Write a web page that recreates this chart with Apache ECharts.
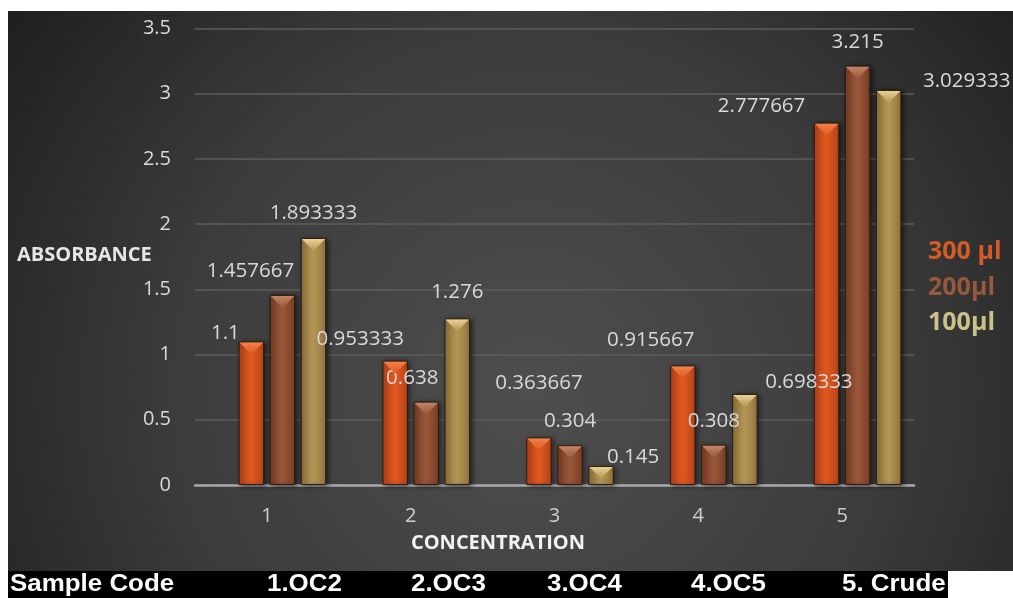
<!DOCTYPE html>
<html>
<head>
<meta charset="utf-8">
<script src="https://cdn.jsdelivr.net/npm/echarts@6/dist/echarts.min.js"></script>
<style>
html,body{margin:0;padding:0;background:#fff;}
#c{width:1013px;height:598px;}
</style>
</head>
<body>
<div id="c"></div>
<script>
// ---- data ----
const categories = ['1', '2', '3', '4', '5'];
const seriesNames = ['300 µl', '200µl', '100µl'];
const s300 = [1.1, 0.953333, 0.363667, 0.915667, 2.777667];
const s200 = [1.457667, 0.638, 0.304, 0.308, 3.215];
const s100 = [1.893333, 1.276, 0.145, 0.698333, 3.029333];
const yTicks = { min: 0, max: 3.5, interval: 0.5 };
const yAxisTitle = 'ABSORBANCE';
const xAxisTitle = 'CONCENTRATION';
const sampleCodes = ['Sample Code', '1.OC2', '2.OC3', '3.OC4', '4.OC5', '5. Crude'];

// ---- layout / style (not data) ----
const labelOffsets = [
  [[-26, 16], [-35, 2], [0, -30], [-32, -1], [-65, 7]],
  [[-32, 0], [-14, 0], [0, 0], [0, 0], [0, 0]],
  [[0, -1], [0, -2], [32, 15], [64, 12], [78, 15]]
];
const barColors = [
  ['#b8441a', '#e0581f', '#b8441a'],
  ['#7a3f28', '#9a5639', '#7a3f28'],
  ['#94763e', '#b39557', '#94763e']
];
const bevelColors = ['#f2804a', '#c38466', '#e9d194'];
const legendColors = ['#d45a28', '#98583b', '#cbc287'];
const BAR_W = 0.177, BAR_GAP = 0.22;
const sampleX = [10, 267, 411, 547, 691, 842];

const values = [s300, s200, s100];
const chart = echarts.init(document.getElementById('c'), null, { renderer: 'canvas' });

function grad(c) {
  return new echarts.graphic.LinearGradient(0, 0, 1, 0, [
    { offset: 0, color: c[0] }, { offset: 0.5, color: c[1] }, { offset: 1, color: c[2] }
  ]);
}

const barSeries = values.map((arr, s) => ({
  type: 'bar',
  name: seriesNames[s],
  barWidth: (BAR_W * 100) + '%',
  barGap: (BAR_GAP * 100) + '%',
  itemStyle: {
    color: grad(barColors[s]),
    borderColor: '#2b1b12', borderWidth: 1,
    shadowColor: 'rgba(0,0,0,0.55)', shadowBlur: 5, shadowOffsetX: 2, shadowOffsetY: 1
  },
  label: {
    show: true, position: 'top', distance: 13,
    color: '#d9d9d9', fontFamily: 'Open Sans', fontSize: 20.5, lineHeight: 22
  },
  data: arr.map((v, i) => ({ value: v, label: { offset: labelOffsets[s][i] } })),
  z: 3
}));

// empty leading series (reserves the first slot of each group, as in the original)
const emptySeries = {
  type: 'bar', name: '_empty', barWidth: (BAR_W * 100) + '%', barGap: (BAR_GAP * 100) + '%',
  data: categories.map(() => null)
};

const bevelData = [];
values.forEach((arr, s) => arr.forEach((v, i) => bevelData.push([i, v, s])));

const bevelSeries = {
  type: 'custom',
  silent: true,
  z: 4,
  data: bevelData,
  encode: { x: 0, y: 1 },
  renderItem: function (params, api) {
    const ci = api.value(0), v = api.value(1), s = api.value(2);
    const p = api.coord([ci, v]);
    const base = api.coord([ci, 0]);
    const band = api.size([1, 0])[0];
    const bw = band * BAR_W;
    const step = bw * (1 + BAR_GAP);
    const cx = p[0] + (s + 1 - 1.5) * step;
    const x0 = cx - bw / 2 + 1, x1 = cx + bw / 2 - 1;
    const h = Math.min(12, (base[1] - p[1]) * 0.6);
    return {
      type: 'polygon',
      shape: { points: [[x0, p[1] + 1], [x1, p[1] + 1], [cx, p[1] + 1 + h]] },
      style: {
        fill: new echarts.graphic.LinearGradient(0, 0, 0, 1, [
          { offset: 0, color: bevelColors[s] }, { offset: 1, color: barColors[s][1] }
        ])
      }
    };
  }
};

const graphics = [
  {
    type: 'rect', z: -10, silent: true,
    shape: { x: 8, y: 11, width: 1005, height: 560 },
    style: {
      fill: new echarts.graphic.RadialGradient(0.52, 0.68, 1.15, [
        { offset: 0, color: '#4e4e4e' }, { offset: 0.55, color: '#3c3c3c' }, { offset: 1, color: '#1f1f1f' }
      ])
    }
  },
  {
    type: 'text', z: 50, left: 17, top: 245,
    style: { text: yAxisTitle, fill: '#e6e6e6', font: 'bold 20px "Open Sans"' }
  },
  {
    type: 'text', z: 50, x: 498, y: 543,
    style: { text: xAxisTitle, fill: '#f2f2f2', font: 'bold 20px "Open Sans"', align: 'center', verticalAlign: 'middle' }
  },
  {
    type: 'rect', z: 50, silent: true,
    shape: { x: 8, y: 571, width: 940, height: 27 },
    style: { fill: '#000' }
  }
].concat(sampleCodes.map((t, i) => ({
  type: 'text', z: 60, x: sampleX[i], y: 584.5, scaleX: 1.08,
  style: { text: t, fill: '#fff', font: 'bold 24px "Liberation Sans", Arial', align: 'left', verticalAlign: 'middle' }
})));

chart.setOption({
  animation: false,
  backgroundColor: 'transparent',
  grid: { left: 195, right: 99, top: 28.5, bottom: 113, containLabel: false },
  legend: {
    data: seriesNames.map((n, s) => ({ name: n, icon: 'none', textStyle: { color: legendColors[s] } })),
    orient: 'vertical', left: 923, top: 237, padding: 0,
    itemWidth: 0, itemHeight: 10, itemGap: 5.5, selectedMode: false,
    textStyle: { fontFamily: 'Open Sans', fontWeight: 'bold', fontSize: 25, lineHeight: 30 }
  },
  xAxis: {
    type: 'category', data: categories,
    axisLine: { lineStyle: { color: '#a8a8a8', width: 2.5 } },
    axisTick: { show: false },
    axisLabel: { color: '#cfcfcf', fontFamily: 'Open Sans', fontSize: 20, margin: 21 },
    splitLine: { show: false }
  },
  yAxis: {
    type: 'value', min: yTicks.min, max: yTicks.max, interval: yTicks.interval,
    axisLine: { show: false }, axisTick: { show: false },
    axisLabel: { color: '#d9d9d9', fontFamily: 'Open Sans', fontSize: 20, margin: 24 },
    splitLine: { lineStyle: { color: '#5c5c5c', width: 1.5 } }
  },
  graphic: graphics,
  series: [emptySeries].concat(barSeries).concat([bevelSeries])
});
</script>
</body>
</html>
